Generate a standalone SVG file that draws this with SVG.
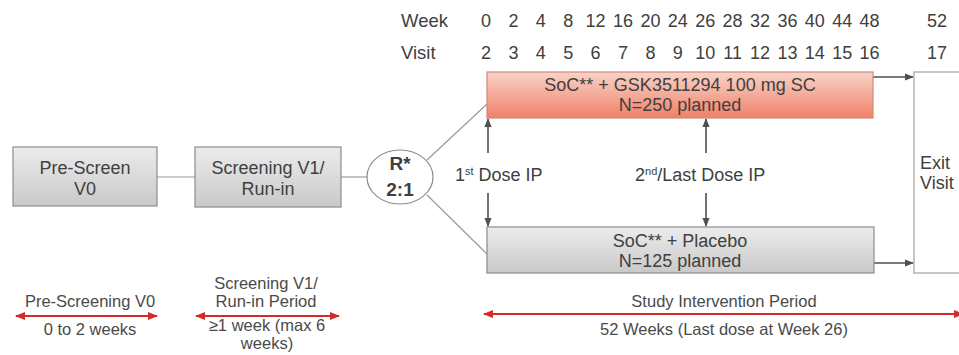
<svg xmlns="http://www.w3.org/2000/svg" width="959" height="355" viewBox="0 0 959 355">
<defs>
<linearGradient id="gGray" x1="0" y1="0" x2="0" y2="1">
<stop offset="0" stop-color="#ececec"/><stop offset="1" stop-color="#c9c9c9"/>
</linearGradient>
<linearGradient id="gRed" x1="0" y1="0" x2="0" y2="1">
<stop offset="0" stop-color="#fad3c8"/><stop offset="1" stop-color="#ef8169"/>
</linearGradient>
<marker id="ah" viewBox="0 0 10 10" refX="9" refY="5" markerWidth="9" markerHeight="9" markerUnits="userSpaceOnUse" orient="auto-start-reverse">
<path d="M0,1 L10,5 L0,9 Z" fill="#505050"/>
</marker>
<marker id="rh" viewBox="0 0 10 10" refX="9" refY="5" markerWidth="10" markerHeight="10" markerUnits="userSpaceOnUse" orient="auto-start-reverse">
<path d="M0,1 L10,5 L0,9 Z" fill="#d42a2a"/>
</marker>
</defs>
<style>
text{font-family:"Liberation Sans",Arial,sans-serif;fill:#404040}
.t{font-size:18px}
.m{text-anchor:middle}
.s{font-size:16.5px;fill:#4a4a4a}
.box{stroke:#8c8c8c;stroke-width:1.2}
.ln{stroke:#9a9a9a;stroke-width:1.2;fill:none}
.ar{stroke:#505050;stroke-width:1.6;fill:none}
.ra{stroke:#d42a2a;stroke-width:2;fill:none}
</style>
<g id="timeline" class="t">
<text x="401" y="27" style="font-size:18.5px">Week</text>
<text x="401" y="59" style="font-size:18.5px">Visit</text>
<g class="m">
<text x="486" y="27">0</text><text x="513.4" y="27">2</text><text x="540.8" y="27">4</text><text x="568.2" y="27">8</text><text x="595.6" y="27">12</text><text x="623" y="27">16</text><text x="650.4" y="27">20</text><text x="677.8" y="27">24</text><text x="705.2" y="27">26</text><text x="732.6" y="27">28</text><text x="760" y="27">32</text><text x="787.4" y="27">36</text><text x="814.8" y="27">40</text><text x="842.2" y="27">44</text><text x="869.6" y="27">48</text><text x="937" y="27">52</text>
<text x="486" y="59">2</text><text x="513.4" y="59">3</text><text x="540.8" y="59">4</text><text x="568.2" y="59">5</text><text x="595.6" y="59">6</text><text x="623" y="59">7</text><text x="650.4" y="59">8</text><text x="677.8" y="59">9</text><text x="705.2" y="59">10</text><text x="732.6" y="59">11</text><text x="760" y="59">12</text><text x="787.4" y="59">13</text><text x="814.8" y="59">14</text><text x="842.2" y="59">15</text><text x="869.6" y="59">16</text><text x="937" y="59">17</text>
</g>
</g>
<g id="connectors">
<line class="ln" x1="157" y1="177" x2="195" y2="177"/>
<line class="ln" x1="341" y1="177" x2="368" y2="177"/>
<line class="ln" x1="427" y1="160" x2="487" y2="104"/>
<line class="ln" x1="427" y1="195" x2="487" y2="254"/>
<line class="ar" x1="873" y1="77" x2="913" y2="77" marker-end="url(#ah)"/>
<line class="ar" x1="874" y1="263" x2="913" y2="263" marker-end="url(#ah)"/>
<line class="ar" x1="488" y1="153" x2="488" y2="119" marker-end="url(#ah)"/>
<line class="ar" x1="488" y1="193" x2="488" y2="226" marker-end="url(#ah)"/>
<line class="ar" x1="706" y1="153" x2="706" y2="119" marker-end="url(#ah)"/>
<line class="ar" x1="706" y1="193" x2="706" y2="226" marker-end="url(#ah)"/>
</g>
<g id="prescreen">
<rect class="box" x="13" y="147" width="144" height="59" fill="url(#gGray)"/>
<text class="t m" x="85" y="174">Pre-Screen</text>
<text class="t m" x="85" y="195">V0</text>
</g>
<g id="screening">
<rect class="box" x="195" y="147" width="146" height="60" fill="url(#gGray)"/>
<text class="t m" x="268" y="174">Screening V1/</text>
<text class="t m" x="268" y="195">Run-in</text>
</g>
<g id="randomization">
<ellipse cx="400" cy="177" rx="33" ry="27" fill="#ffffff" stroke="#8c8c8c" stroke-width="1.2"/>
<text class="m" x="400" y="170" style="font-size:19px;font-weight:bold">R*</text>
<text class="m" x="400" y="196" style="font-size:19px;font-weight:bold">2:1</text>
</g>
<g id="active">
<rect x="487" y="72" width="386" height="46" fill="url(#gRed)" stroke="#cf8a7a" stroke-width="1.2"/>
<text class="t m" x="680" y="91">SoC** + GSK3511294 100 mg SC</text>
<text class="t m" x="680" y="111">N=250 planned</text>
</g>
<g id="placebo">
<rect class="box" x="487" y="227" width="387" height="46" fill="url(#gGray)"/>
<text class="t m" x="680" y="247">SoC** + Placebo</text>
<text class="t m" x="680" y="267">N=125 planned</text>
</g>
<g id="exit">
<rect x="914" y="72" width="60" height="201" fill="#ffffff" stroke="#a0a0a0" stroke-width="1.2"/>
<text class="t" x="920" y="169">Exit</text>
<text class="t" x="920" y="189">Visit</text>
</g>
<g id="dose-labels" class="t">
<text x="455" y="181"><tspan>1</tspan><tspan dy="-6" style="font-size:11px">st</tspan><tspan dy="6"> Dose IP</tspan></text>
<text x="635" y="181"><tspan>2</tspan><tspan dy="-6" style="font-size:11px">nd</tspan><tspan dy="6">/Last Dose IP</tspan></text>
</g>
<g id="periods">
<text class="s m" x="90" y="307">Pre-Screening V0</text>
<line class="ra" x1="16" y1="316" x2="157" y2="316" marker-start="url(#rh)" marker-end="url(#rh)"/>
<text class="s m" x="90" y="335">0 to 2 weeks</text>
<text class="s m" x="266" y="289">Screening V1/</text>
<text class="s m" x="266" y="307">Run-in Period</text>
<line class="ra" x1="196" y1="316" x2="339" y2="316" marker-start="url(#rh)" marker-end="url(#rh)"/>
<text class="s m" x="267" y="331">≥1 week (max 6</text>
<text class="s m" x="267" y="349">weeks)</text>
<text class="s m" x="724" y="307">Study Intervention Period</text>
<line class="ra" x1="484" y1="314" x2="963" y2="314" marker-start="url(#rh)" marker-end="url(#rh)"/>
<text class="s m" x="724" y="335">52 Weeks (Last dose at Week 26)</text>
</g>
</svg>
